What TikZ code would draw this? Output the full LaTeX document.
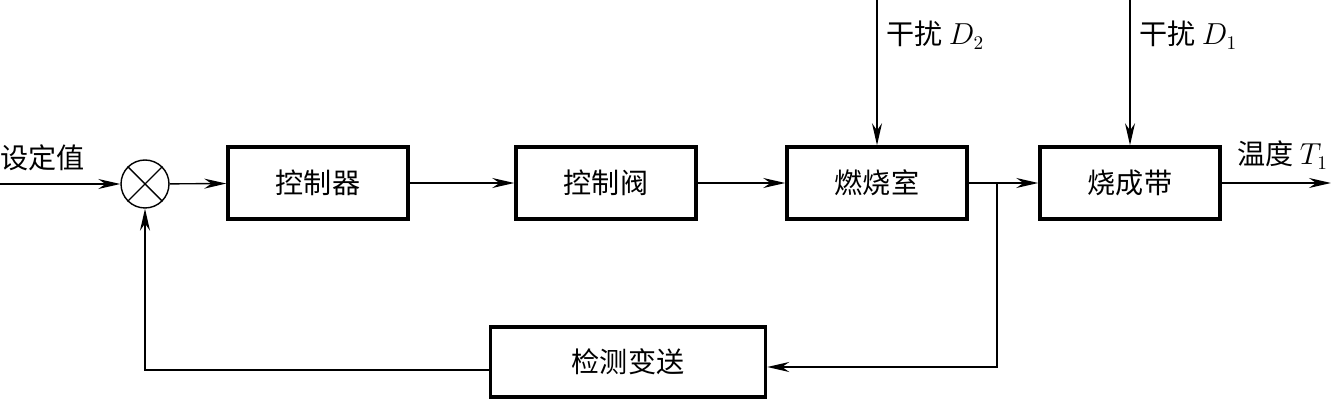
\documentclass[tikz,border=0pt]{standalone}
\usepackage{fontspec}
\newfontfamily\cjk{Noto Sans CJK SC}
\usetikzlibrary{arrows.meta,positioning}
\begin{document}
\begin{tikzpicture}[x=0.02cm,y=-0.02cm,
  blk/.style={draw,line width=2pt,minimum width=3.6cm,minimum height=1.44cm,inner sep=0pt,font=\cjk\fontsize{16}{19}\selectfont},
  sig/.style={line width=0.8pt,-{Stealth[length=4.4mm,width=2mm]}},
  lbl/.style={font=\cjk\fontsize{16}{19}\selectfont,inner sep=0pt}]
\useasboundingbox (0,0) rectangle (1331,401);
\node[circle,draw,line width=0.8pt,minimum size=0.96cm,inner sep=0pt] (sum) at (145,184) {};
\draw[line width=0.8pt] (sum.north west) -- (sum.south east) (sum.north east) -- (sum.south west);
\node[blk] (ctrl) at (318,183) {控制器};
\node[blk] (valve) at (606,183) {控制阀};
\node[blk] (burn) at (877,183) {燃烧室};
\node[blk] (zone) at (1130,183) {烧成带};
\node[blk,minimum width=5.5cm,minimum height=1.4cm] (meas) at (628,362) {检测变送};
\coordinate (in) at (0,184);
\coordinate (br) at (997,183);
\coordinate (out) at (1331,183);
\coordinate (d2) at (877,0);
\coordinate (d1) at (1130,0);
\draw[sig] (in) -- (sum);
\draw[sig] (sum) -- (ctrl);
\draw[sig] (ctrl) -- (valve);
\draw[sig] (valve) -- (burn);
\draw[sig] (burn) -- (zone);
\draw[sig] (zone) -- (out);
\draw[sig] (br) |- ([yshift=-0.1cm]meas.east);
\draw[sig] ([yshift=-0.16cm]meas.west) -| (sum.south);
\draw[sig] (d2) -- (burn.north);
\draw[sig] (d1) -- (zone.north);
\node[lbl,anchor=west] (setp) at (0,158) {设定值};
\node[lbl,anchor=west] (dist2) at (886,35) {干扰 $D_2$};
\node[lbl,anchor=west] (dist1) at (1139,35) {干扰 $D_1$};
\node[lbl,anchor=west] (temp) at (1237,155) {温度 $T_1$};
\end{tikzpicture}
\end{document}
